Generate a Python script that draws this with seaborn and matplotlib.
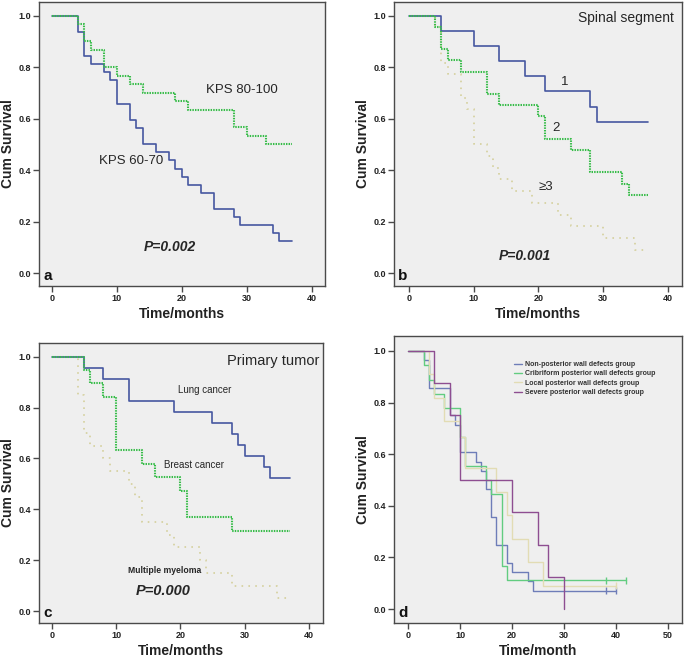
import pandas as pd
import matplotlib
matplotlib.use('Agg')
import matplotlib.pyplot as plt
import seaborn as sns
from matplotlib.lines import Line2D

# curvas Kaplan-Meier (tiempo en meses, supervivencia acumulada)

# a: KPS
a_low_t = [0, 4, 5, 6, 8, 9, 10, 12, 13, 14, 16, 18, 19, 20, 21, 23, 25, 28, 29, 34, 35, 37]
a_low_s = [1.0, 0.938, 0.844, 0.813, 0.781, 0.75, 0.656, 0.594, 0.563, 0.5, 0.469, 0.438,
           0.406, 0.375, 0.344, 0.313, 0.25, 0.219, 0.188, 0.156, 0.125, 0.125]
a_high_t = [0, 4, 5, 6, 8, 10, 12, 14, 19, 21, 28, 30, 33, 37]
a_high_s = [1.0, 0.967, 0.9, 0.867, 0.8, 0.767, 0.733, 0.7, 0.667, 0.633, 0.567, 0.533, 0.5, 0.5]

# b: segmentos espinales
b1_t = [0, 5, 10, 14, 18, 21, 28, 29, 37]
b1_s = [1.0, 0.941, 0.882, 0.824, 0.765, 0.706, 0.647, 0.588, 0.588]
b2_t = [0, 4, 5, 6, 8, 12, 14, 20, 21, 25, 28, 33, 34, 37]
b2_s = [1.0, 0.957, 0.870, 0.826, 0.783, 0.696, 0.652, 0.609, 0.522, 0.478, 0.391, 0.348, 0.304, 0.304]
b3_t = [0, 4, 5, 6, 8, 9, 10, 12, 13, 14, 16, 19, 23, 25, 30, 35, 37]
b3_s = [1.0, 0.955, 0.818, 0.773, 0.682, 0.636, 0.5, 0.455, 0.409, 0.364, 0.318, 0.273,
        0.227, 0.182, 0.136, 0.091, 0.091]

# c: tumor primario
c_lung_t = [0, 5, 8, 12, 19, 25, 28, 29, 30, 33, 34, 37]
c_lung_s = [1.0, 0.957, 0.913, 0.826, 0.783, 0.739, 0.696, 0.652, 0.609, 0.565, 0.522, 0.522]
c_breast_t = [0, 5, 6, 8, 10, 14, 16, 20, 21, 28, 37]
c_breast_s = [1.0, 0.947, 0.895, 0.842, 0.632, 0.579, 0.526, 0.474, 0.368, 0.316, 0.316]
c_mm_t = [0, 4, 5, 6, 8, 9, 12, 13, 14, 18, 19, 23, 24, 28, 35, 37]
c_mm_s = [1.0, 0.85, 0.70, 0.65, 0.60, 0.55, 0.50, 0.45, 0.35, 0.30, 0.25, 0.20, 0.15, 0.10, 0.05, 0.05]

# d: defectos de pared posterior
d_groups = ['Non-posterior wall defects group', 'Cribriform posterior wall defects group',
            'Local posterior wall defects group', 'Severe posterior wall defects group']
d_non_t = [0, 3, 4, 8, 9, 10, 13, 14, 15, 16, 17, 19, 20, 23, 24, 40]
d_non_s = [1.0, 0.964, 0.857, 0.75, 0.714, 0.607, 0.571, 0.536, 0.464, 0.357, 0.25, 0.179,
           0.143, 0.107, 0.071, 0.071]
d_crib_t = [0, 3, 4, 5, 7, 10, 11, 15, 16, 18, 19, 42]
d_crib_s = [1.0, 0.944, 0.889, 0.833, 0.778, 0.667, 0.556, 0.5, 0.444, 0.167, 0.111, 0.111]
d_local_t = [0, 4, 5, 7, 10, 11, 17, 19, 20, 23, 26, 40]
d_local_s = [1.0, 0.909, 0.818, 0.727, 0.667, 0.545, 0.455, 0.364, 0.273, 0.182, 0.091, 0.091]
d_severe_t = [0, 5, 8, 10, 20, 25, 27, 30]
d_severe_s = [1.0, 0.875, 0.75, 0.5, 0.375, 0.25, 0.125, 0.0]
d_non_cens = [38, 40]
d_crib_cens = [38, 42]
d_local_cens = [40]

BLUE = '#4657A0'
GREEN = '#36BC48'
PALE = '#D6D2A2'
D_COLORS = ['#6E7DB8', '#62CC80', '#E2DCB4', '#8E4E91']

SOLID = ''
DENSE = (0.7, 0.55)
SPARSE = (0.9, 2.9)

sns.set_theme(style='ticks', rc={
    'axes.facecolor': '#EFEFEF',
    'axes.edgecolor': '#4A4A4A',
    'axes.linewidth': 1.0,
    'xtick.color': '#4A4A4A',
    'ytick.color': '#4A4A4A',
    'xtick.labelcolor': '#222222',
    'ytick.labelcolor': '#222222',
    'xtick.major.size': 4,
    'ytick.major.size': 4,
    'xtick.major.width': 1,
    'ytick.major.width': 1,
    'xtick.major.pad': 1.5,
    'ytick.major.pad': 1.5,
})
plt.rcParams['font.family'] = ['Liberation Sans', 'DejaVu Sans']


def km_panel(ax, curves, palette, dashes, widths):
    frames = [pd.DataFrame({'time': t, 'surv': s, 'group': name}) for name, t, s in curves]
    df = pd.concat(frames, ignore_index=True)
    order = [c[0] for c in curves]
    sns.lineplot(data=df, x='time', y='surv', hue='group', style='group', size='group',
                 hue_order=order, style_order=order, size_order=order, sizes=widths,
                 palette=palette, dashes=dashes, drawstyle='steps-post',
                 estimator=None, sort=False, legend=False, ax=ax)


def style_axes(ax, xticks, xlim, ylim, xlabel, letter):
    ax.set_xlim(*xlim)
    ax.set_ylim(*ylim)
    ax.set_xticks(xticks)
    ax.set_yticks([0.0, 0.2, 0.4, 0.6, 0.8, 1.0])
    ax.set_yticklabels([f'{v:.1f}' for v in [0.0, 0.2, 0.4, 0.6, 0.8, 1.0]])
    for lab in ax.get_xticklabels() + ax.get_yticklabels():
        lab.set_fontsize(6.5)
        lab.set_fontweight('bold')
    ax.set_xlabel(xlabel, fontsize=10, fontweight='bold', labelpad=3, color='#222222')
    ax.set_ylabel('Cum Survival', fontsize=10, fontweight='bold', labelpad=3, color='#222222')
    for sp in ax.spines.values():
        sp.set_visible(True)
    ax.text(0.015, 0.01, letter, transform=ax.transAxes, fontsize=11, fontweight='bold',
            ha='left', va='bottom', color='#111111')


fig = plt.figure(figsize=(6.85, 6.58), dpi=100)
ax_a = fig.add_axes([0.0569, 0.5653, 0.4175, 0.4316])
ax_b = fig.add_axes([0.5752, 0.5653, 0.4204, 0.4316])
ax_c = fig.add_axes([0.0569, 0.0532, 0.4146, 0.4255])
ax_d = fig.add_axes([0.5752, 0.0532, 0.4204, 0.4362])

# GRAFICO a
km_panel(ax_a, [('KPS 60-70', a_low_t, a_low_s), ('KPS 80-100', a_high_t, a_high_s)],
         {'KPS 60-70': BLUE, 'KPS 80-100': GREEN},
         {'KPS 60-70': SOLID, 'KPS 80-100': DENSE},
         {'KPS 60-70': 1.2, 'KPS 80-100': 1.5})
style_axes(ax_a, [0, 10, 20, 30, 40], (-2, 42), (-0.05, 1.053), 'Time/months', 'a')
ax_a.text(29.2, 0.71, 'KPS 80-100', fontsize=9.5, ha='center', va='center')
ax_a.text(12.2, 0.437, 'KPS 60-70', fontsize=9.5, ha='center', va='center')
ax_a.text(18.1, 0.103, 'P=0.002', fontsize=10, fontweight='bold', fontstyle='italic',
          ha='center', va='center')

# GRAFICO b
km_panel(ax_b, [('>=3', b3_t, b3_s), ('1', b1_t, b1_s), ('2', b2_t, b2_s)],
         {'1': BLUE, '2': GREEN, '>=3': PALE},
         {'1': SOLID, '2': DENSE, '>=3': SPARSE},
         {'1': 1.2, '2': 1.5, '>=3': 1.3})
style_axes(ax_b, [0, 10, 20, 30, 40], (-2.3, 42.2), (-0.05, 1.053), 'Time/months', 'b')
ax_b.text(40.9, 0.99, 'Spinal segment', fontsize=10, ha='right', va='center')
ax_b.text(24.1, 0.744, '1', fontsize=9.5, ha='center', va='center')
ax_b.text(22.7, 0.563, '2', fontsize=9.5, ha='center', va='center')
ax_b.text(21.1, 0.336, '≥3', fontsize=9.5, ha='center', va='center')
ax_b.text(17.9, 0.067, 'P=0.001', fontsize=10, fontweight='bold', fontstyle='italic',
          ha='center', va='center')

# GRAFICO c
km_panel(ax_c, [('Multiple myeloma', c_mm_t, c_mm_s), ('Lung cancer', c_lung_t, c_lung_s),
                ('Breast cancer', c_breast_t, c_breast_s)],
         {'Lung cancer': BLUE, 'Breast cancer': GREEN, 'Multiple myeloma': PALE},
         {'Lung cancer': SOLID, 'Breast cancer': DENSE, 'Multiple myeloma': SPARSE},
         {'Lung cancer': 1.2, 'Breast cancer': 1.5, 'Multiple myeloma': 1.3})
style_axes(ax_c, [0, 10, 20, 30, 40], (-2.0, 42.2), (-0.047, 1.054), 'Time/months', 'c')
ax_c.text(41.6, 0.984, 'Primary tumor', fontsize=10.5, ha='right', va='center')
ax_c.text(23.8, 0.869, 'Lung cancer', fontsize=7, ha='center', va='center')
ax_c.text(22.05, 0.574, 'Breast cancer', fontsize=7, ha='center', va='center')
ax_c.text(17.5, 0.161, 'Multiple myeloma', fontsize=6.2, fontweight='bold', ha='center', va='center')
ax_c.text(17.3, 0.079, 'P=0.000', fontsize=10.5, fontweight='bold', fontstyle='italic',
          ha='center', va='center')

# GRAFICO d
d_curves = [(d_groups[0], d_non_t, d_non_s), (d_groups[1], d_crib_t, d_crib_s),
            (d_groups[2], d_local_t, d_local_s), (d_groups[3], d_severe_t, d_severe_s)]
d_pal = dict(zip(d_groups, D_COLORS))
km_panel(ax_d, d_curves, d_pal, {g: SOLID for g in d_groups}, {g: 1.0 for g in d_groups})

cens = pd.DataFrame({
    'time': d_non_cens + d_crib_cens + d_local_cens,
    'surv': [d_non_s[-1]] * len(d_non_cens) + [d_crib_s[-1]] * len(d_crib_cens)
            + [d_local_s[-1]] * len(d_local_cens),
    'group': [d_groups[0]] * len(d_non_cens) + [d_groups[1]] * len(d_crib_cens)
             + [d_groups[2]] * len(d_local_cens),
})
sns.scatterplot(data=cens, x='time', y='surv', hue='group', palette=d_pal, marker='|',
                s=25, linewidth=1.0, legend=False, ax=ax_d)
style_axes(ax_d, [0, 10, 20, 30, 40, 50], (-2.7, 52.7), (-0.054, 1.058), 'Time/month', 'd')

handles = [Line2D([], [], color=c, lw=1.0) for c in D_COLORS]
leg = ax_d.legend(handles, d_groups, loc='upper left', bbox_to_anchor=(0.405, 0.925),
                  frameon=False, handlelength=1.2, handletextpad=0.3, labelspacing=0.35,
                  borderpad=0, prop={'size': 5, 'weight': 'bold'})
for txt in leg.get_texts():
    txt.set_color('#333333')

fig.savefig('out.png', dpi=100)
plt.close()
